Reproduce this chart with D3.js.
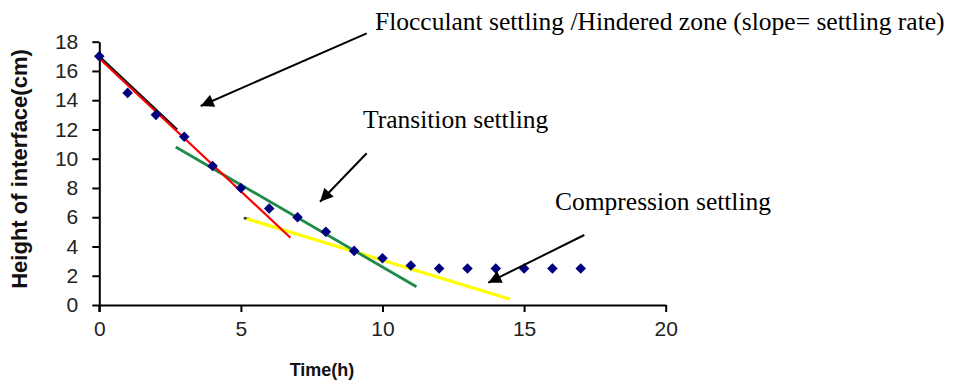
<!DOCTYPE html>
<html><head><meta charset="utf-8">
<script src="https://cdn.jsdelivr.net/npm/d3@7"></script>
<style>body{margin:0;background:#fff}svg{display:block}</style>
</head><body>
<svg id="c" width="968" height="390"></svg>
<script>
const times = [0,1,2,3,4,5,6,7,8,9,10,11,12,13,14,15,16,17];
const heights = [17,14.5,13,11.5,9.5,8,6.6,6,5,3.7,3.2,2.7,2.5,2.5,2.5,2.5,2.5,2.5];
const xTicks = [0,5,10,15,20];
const yTicks = [0,2,4,6,8,10,12,14,16,18];
// fitted lines: [x1,y1,x2,y2]
const blackLine = [0,17,2.75,12.0];
const redLine = [0,16.85,6.75,4.6];
const greenLine = [2.7,10.8,11.2,1.25];
const yellowLine = [5.2,5.9,14.5,0.4];
const yellowStub = [5.1,5.95,5.3,5.88];
const labels = ["Flocculant settling /Hindered zone (slope= settling rate)","Transition settling","Compression settling"];
const xTitle = "Time(h)";
const yTitle = "Height of  interface(cm)";

const svg = d3.select("#c");
const x = d3.scaleLinear().domain([0,20]).range([99.3,665.7]);
const y = d3.scaleLinear().domain([0,18]).range([305,41.7]);

const gx = svg.append("g").attr("transform","translate(0,305)")
  .call(d3.axisBottom(x).tickValues(xTicks).tickSize(7).tickSizeOuter(0).tickPadding(9));
const gy = svg.append("g").attr("transform","translate(99.3,0)")
  .call(d3.axisLeft(y).tickValues(yTicks).tickSize(7).tickSizeOuter(0).tickPadding(14));
[gx,gy].forEach(g=>{
  g.select(".domain").attr("stroke","#000").attr("stroke-width",2);
  g.selectAll(".tick line").attr("stroke","#000").attr("stroke-width",2);
  g.selectAll(".tick text").attr("font-family","Liberation Sans, Arial, sans-serif").attr("font-size",21).attr("fill","#222");
});
svg.append("line").attr("x1",x(0)).attr("x2",x(0)).attr("y1",y(0)).attr("y2",y(0)+7).attr("stroke","#000").attr("stroke-width",2);

function seg(d,color,w){
  svg.append("line").attr("x1",x(d[0])).attr("y1",y(d[1])).attr("x2",x(d[2])).attr("y2",y(d[3]))
    .attr("stroke",color).attr("stroke-width",w);
}
seg(blackLine,"#111",2.2);
seg(yellowStub,"#333",2.5);
seg(yellowLine,"#ffff00",3.2);
seg(greenLine,"#1f8a4a",2.8);
seg(redLine,"#ff0000",2.2);

svg.append("g").selectAll("path").data(times).join("path")
  .attr("transform",(d,i)=>`translate(${x(d)},${y(heights[i])}) rotate(45)`)
  .attr("d",d3.symbol().type(d3.symbolSquare).size(56))
  .attr("fill","#000080");

const defs = svg.append("defs");
defs.append("marker").attr("id","ah").attr("viewBox","0 0 10 10").attr("refX",10).attr("refY",5)
  .attr("markerWidth",7.5).attr("markerHeight",6.5).attr("orient","auto").attr("markerUnits","strokeWidth")
  .append("path").attr("d","M0,0L10,5L0,10Z").attr("fill","#000");
const arrows = [[366.7,33.3,200.7,106],[366.7,153.3,320,201.7],[584.3,235,488.3,282.7]];
svg.append("g").selectAll("line").data(arrows).join("line")
  .attr("x1",d=>d[0]).attr("y1",d=>d[1]).attr("x2",d=>d[2]).attr("y2",d=>d[3])
  .attr("stroke","#000").attr("stroke-width",2).attr("marker-end","url(#ah)");

const lab = [[375,30],[363,128],[555,210]];
svg.append("g").selectAll("text").data(labels).join("text")
  .attr("x",(d,i)=>lab[i][0]).attr("y",(d,i)=>lab[i][1])
  .attr("font-family","Liberation Serif, Times New Roman, serif").attr("font-size",25.5).attr("fill","#000")
  .text(d=>d);

svg.append("text").attr("x",322).attr("y",376).attr("text-anchor","middle")
  .attr("font-family","Liberation Sans, Arial, sans-serif").attr("font-weight","bold").attr("font-size",18)
  .attr("fill","#111").text(xTitle);
svg.append("text").attr("transform","translate(27,169) rotate(-90)").attr("text-anchor","middle")
  .attr("font-family","Liberation Sans, Arial, sans-serif").attr("font-weight","bold").attr("font-size",22)
  .attr("fill","#111").text(yTitle);
</script>
</body></html>
